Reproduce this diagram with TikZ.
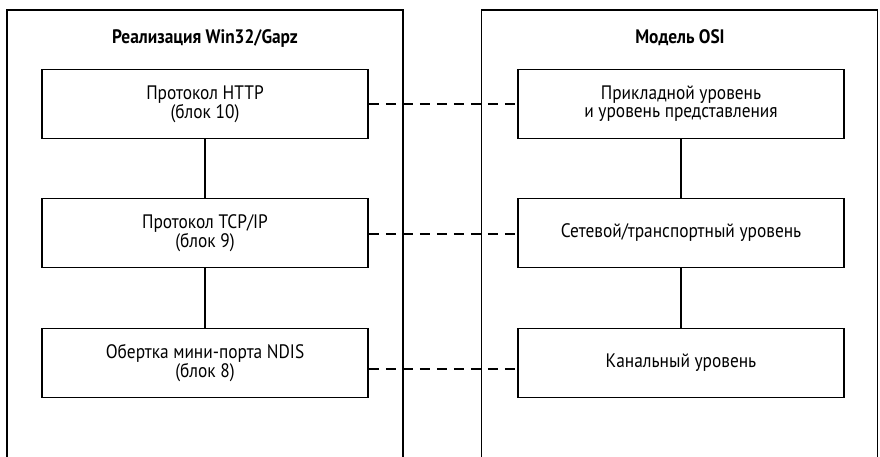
\documentclass[tikz,border=0pt]{standalone}
\usepackage{fontspec}
\setmainfont{PT Sans}[FakeStretch=0.89]
\usetikzlibrary{positioning}
\tikzset{
  every node/.style={font=\fontsize{19.5}{18}\selectfont},
  panel/.style={draw, line width=1.3pt, minimum width=396pt, minimum height=470pt, inner sep=0pt},
  hdr/.style={font=\fontsize{19.5}{18}\selectfont\bfseries},
  lvl/.style={draw, line width=1.5pt, minimum width=326pt, minimum height=69pt, inner sep=0pt, align=center},
  tie/.style={line width=1.4pt},
  peer/.style={line width=1.5pt, dash pattern=on 10pt off 7pt},
}

\begin{document}
\begin{tikzpicture}[x=1pt, y=-1pt, node distance=58.5pt and 148.5pt]
  \clip (0,0) rectangle (880,456);
  % panels
  \node[panel] (impl) at (205,245) {};
  \node[panel] (osi) at (679.5,245) {};
  \node[hdr] (implhdr) at (205,38) {Реализация Win32/Gapz};
  \node[hdr] (osihdr) at (680,38) {Модель OSI};
  % left stack
  \node[lvl] (http) at (205,104) {Протокол HTTP\\(блок 10)};
  \node[lvl, below=of http] (tcpip) {Протокол TCP/IP\\(блок 9)};
  \node[lvl, below=59.5pt of tcpip] (ndis) {Обертка мини-порта NDIS\\(блок 8)};
  % right stack
  \node[lvl, right=of http] (app) {Прикладной уровень\\и уровень представления};
  \node[lvl, right=of tcpip] (net) {Сетевой/транспортный уровень};
  \node[lvl, right=of ndis] (link) {Канальный уровень};
  \draw[tie] (http) -- (tcpip);
  \draw[tie] (tcpip) -- (ndis);
  \draw[tie] (app) -- (net);
  \draw[tie] (net) -- (link);
  \draw[peer] (http.east) -- (app.west);
  \draw[peer] ([yshift=-1pt]tcpip.east) -- ([yshift=-1pt]net.west);
  \draw[peer] ([yshift=-6pt]ndis.east) -- ([yshift=-6pt]link.west);
\end{tikzpicture}
\end{document}
